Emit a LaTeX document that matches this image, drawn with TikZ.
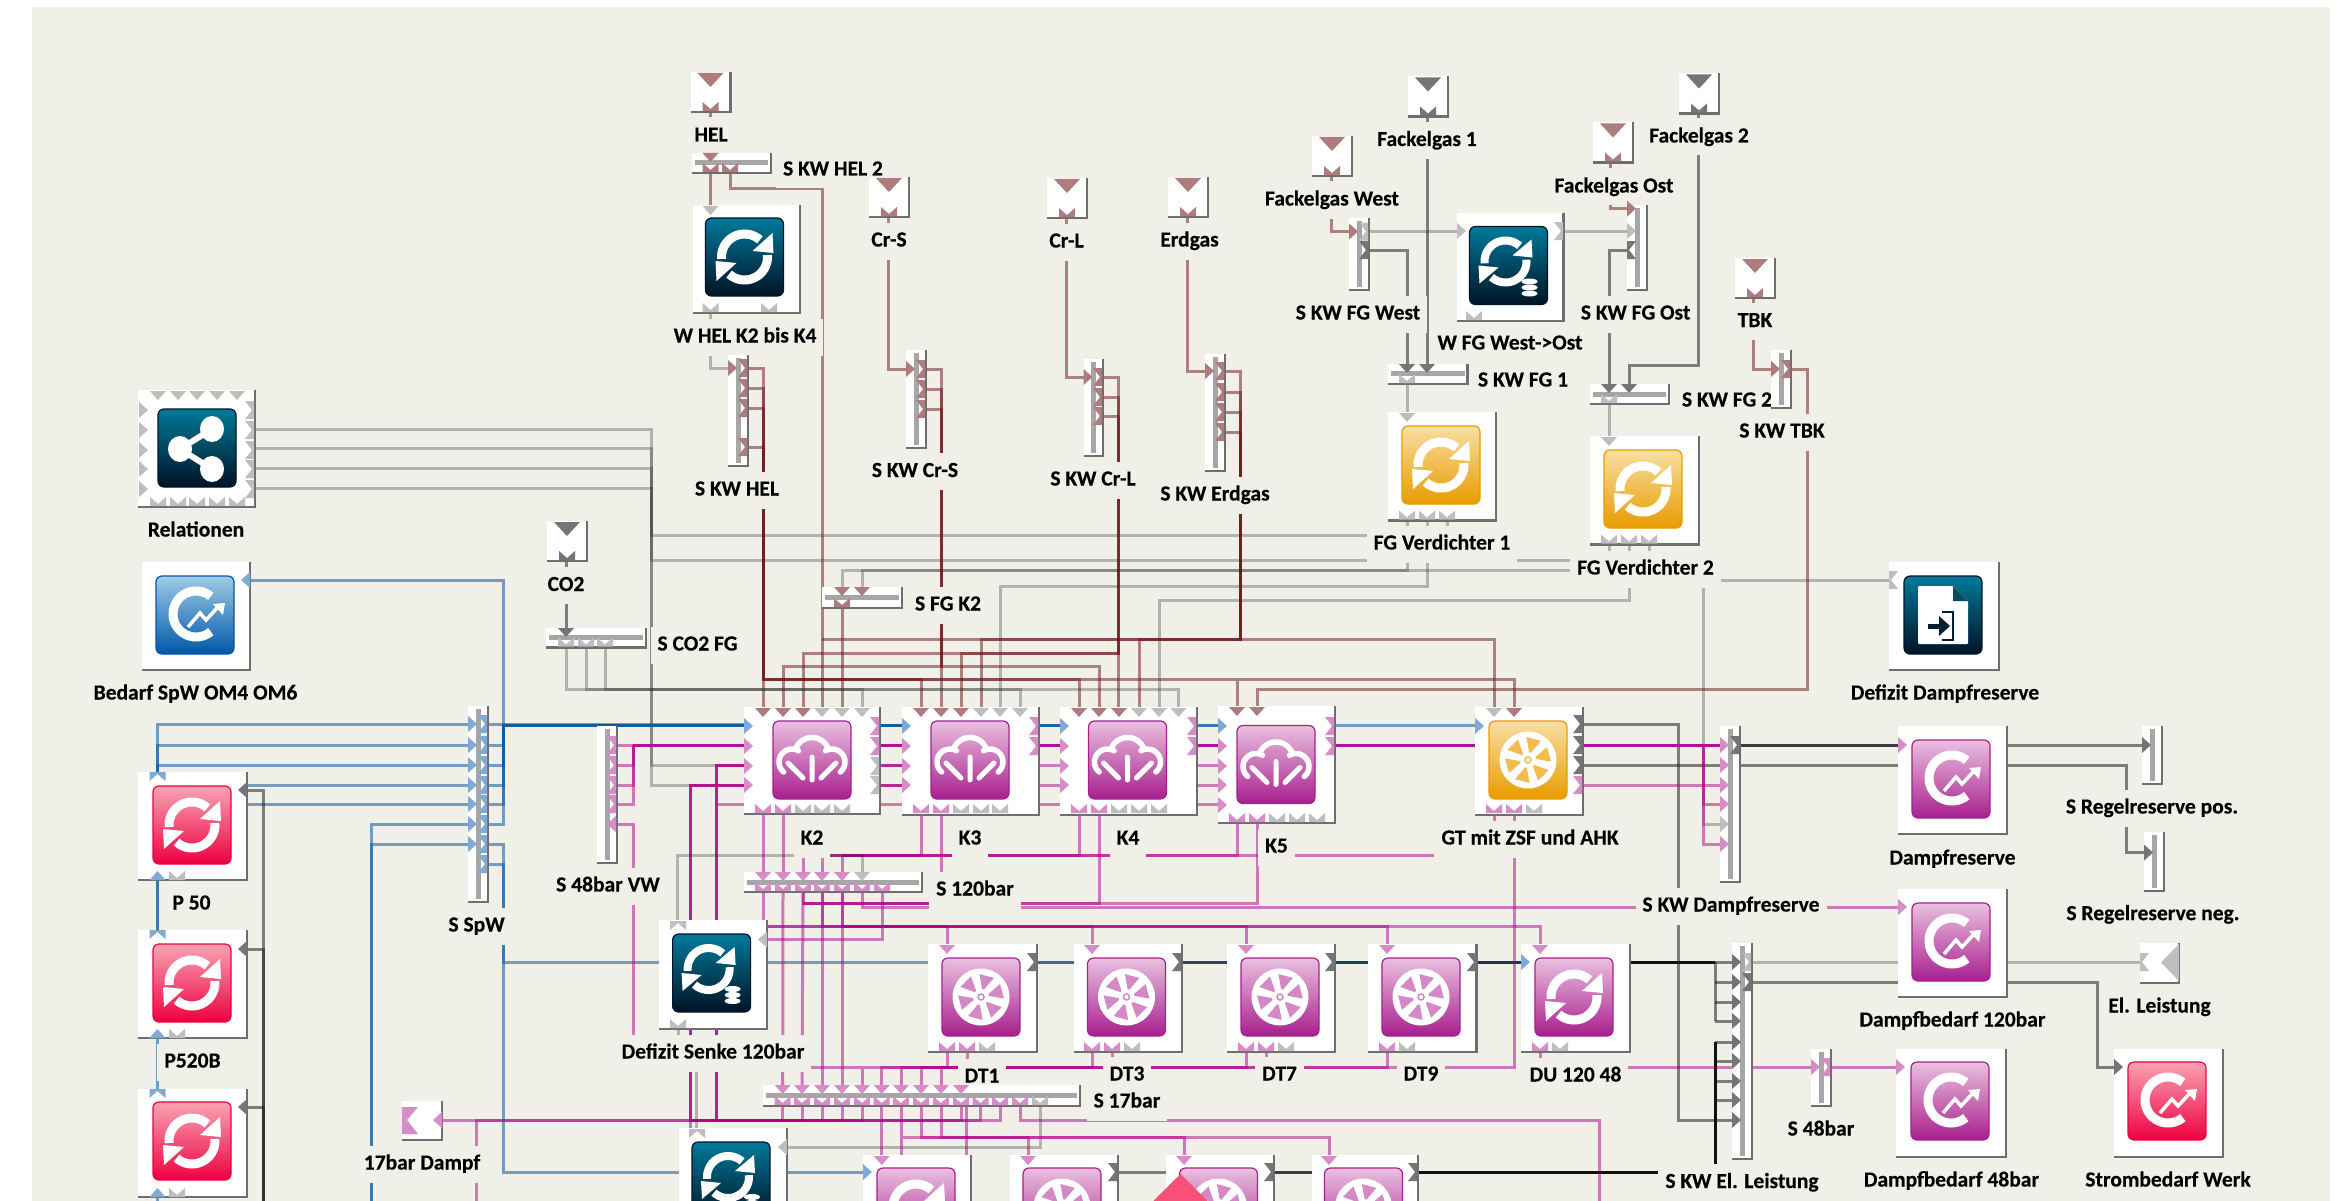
\documentclass[tikz,border=0pt]{standalone}
\usepackage{fontspec}
\setmainfont{Carlito}[BoldFeatures={FakeBold=0.35}]
\usetikzlibrary{calc}
\definecolor{bgc}{HTML}{F0EFE8}
\definecolor{ptM}{HTML}{AE7C7C}
\definecolor{ptG}{HTML}{BEBEBE}
\definecolor{ptD}{HTML}{757575}
\definecolor{ptP}{HTML}{D68CC6}
\definecolor{ptB}{HTML}{7FAAD4}
\definecolor{busbar}{HTML}{A6A6A6}
\definecolor{shadc}{HTML}{6E6E6E}
\definecolor{magd}{HTML}{B5108F}
\definecolor{docA}{HTML}{0A4A62}
\definecolor{docB}{HTML}{02202F}
\definecolor{whP}{HTML}{D488C4}
\definecolor{whO}{HTML}{F1BC50}
\definecolor{Pa}{HTML}{E9C0DF}\definecolor{Pb}{HTML}{CB71B6}\definecolor{Pc}{HTML}{A81F8E}
\definecolor{Ra}{HTML}{F9A3B3}\definecolor{Rb}{HTML}{F4496D}\definecolor{Rc}{HTML}{EE0040}
\definecolor{Oa}{HTML}{F8DFA2}\definecolor{Ob}{HTML}{F1BC50}\definecolor{Oc}{HTML}{E89C00}
\definecolor{Da}{HTML}{007A9A}\definecolor{Db}{HTML}{004C66}\definecolor{Dc}{HTML}{001326}
\definecolor{Ba}{HTML}{9FCBE7}\definecolor{Bb}{HTML}{3D8CC8}\definecolor{Bc}{HTML}{0058A8}
\definecolor{cmar}{RGB}{106,20,20}
\definecolor{cgl}{RGB}{40,40,40}
\definecolor{cgm}{RGB}{32,32,32}
\definecolor{cpm}{RGB}{176,0,138}
\definecolor{cbl}{RGB}{10,90,160}
\definecolor{blA}{RGB}{61,106,144}
\definecolor{blB}{RGB}{35,74,106}
\definecolor{blC}{RGB}{30,63,96}
\definecolor{blD}{RGB}{20,54,90}
\definecolor{grD}{RGB}{60,60,60}
\definecolor{blk}{RGB}{15,15,15}
\definecolor{diam}{RGB}{248,80,118}
\pgfdeclarelayer{under}\pgfdeclarelayer{lines}\pgfdeclarelayer{masks}
\pgfsetlayers{under,lines,masks,main}
\tikzset{
 blockbox/.style={rectangle,fill=white,inner sep=0pt,outer sep=0pt},
 shad/.style={draw=shadc,line width=2.4pt},
 lab/.style={rectangle,fill=bgc,inner xsep=7pt,inner ysep=0pt,minimum height=37pt,text height=15pt,text depth=4pt,text=black,font=\fontsize{21.5}{24}\selectfont\bfseries},
 con/.style={line width=3pt},
 mar/.style={con,draw=cmar,draw opacity=.5},
 gl/.style={con,draw=cgl,draw opacity=.3},
 gm/.style={con,draw=cgm,draw opacity=.55},
 pm/.style={con,draw=cpm,draw opacity=.5},
 bl/.style={con,draw=cbl,draw opacity=.55},
 so/.style={con,draw=#1}
}
% ports
\newcommand{\pT}[3]{\fill[#3] (#1-8,#2)--(#1+8,#2)--(#1,#2+9)--cycle;}
\newcommand{\pL}[3]{\fill[#3] (#1,#2-8)--(#1,#2+8)--(#1+9,#2)--cycle;}
\newcommand{\pLL}[3]{\fill[#3] (#1,#2-8)--(#1,#2+8)--(#1-9,#2)--cycle;}
\newcommand{\pB}[3]{\fill[#3] (#1-8,#2-9)--(#1,#2-2)--(#1+8,#2-9)--(#1+8,#2)--(#1-8,#2)--cycle;}
\newcommand{\pR}[3]{\fill[#3] (#1,#2-9)--(#1-9,#2-9)--(#1-2,#2)--(#1-9,#2+9)--(#1,#2+9)--cycle;}
\newcommand{\pLn}[3]{\fill[#3] (#1,#2-9)--(#1+9,#2-9)--(#1+2,#2)--(#1+9,#2+9)--(#1,#2+9)--cycle;}
\newcommand{\pU}[3]{\fill[#3] (#1-8,#2)--(#1+8,#2)--(#1+8,#2+9)--(#1,#2+2)--(#1-8,#2+9)--cycle;}
\newcommand{\pUp}[3]{\fill[#3] (#1-8,#2)--(#1+8,#2)--(#1,#2-9)--cycle;}
% blocks
\newcommand{\blk}[5]{\pgfmathsetmacro\bw{#4-#2}\pgfmathsetmacro\bh{#5-#3}%
 \node[blockbox,minimum width=\bw pt,minimum height=\bh pt,anchor=north west] (#1) at (#2,#3) {};%
 \draw[shad] (#1.north east)--(#1.south east)--(#1.south west);}
\newcommand{\vbus}[5]{\blk{#1}{#2}{#3}{#4}{#5}%
 \pgfmathsetmacro\bc{(#2+#4)/2}%
 \draw[draw=busbar,line width=5pt] (\bc,#3+3)--(\bc,#5-3);}
\newcommand{\hbus}[5]{\blk{#1}{#2}{#3}{#4}{#5}%
 \pgfmathsetmacro\bc{(#3+#5)/2}%
 \draw[draw=busbar,line width=5pt] (#2+3,\bc)--(#4-3,\bc);}
\newcommand{\src}[4]{\blk{#1}{#2}{#3}{#2+40}{#3+40}%
 \fill[#4] (#2+7,#3+1)--(#2+33,#3+1)--(#2+20,#3+15)--cycle;%
 \pB{#2+20}{#3+39}{#4}}
\newcommand{\lab}[4]{\node[lab] (#1) at (#2,#3) {#4};}
% icons
\newcommand{\icb}[5]{\shadedraw[rounded corners=6pt,top color=#3,middle color=#4,bottom color=#5,draw=#5,line width=1.2pt] (#1,#2) rectangle ++(78,78);}
\newcommand{\icP}[2]{\icb{#1}{#2}{Pa}{Pb}{Pc}}
\newcommand{\icR}[2]{\icb{#1}{#2}{Ra}{Rb}{Rc}}
\newcommand{\icO}[2]{\icb{#1}{#2}{Oa}{Ob}{Oc}}
\newcommand{\icD}[2]{\icb{#1}{#2}{Da}{Db}{Dc}}
\newcommand{\icB}[2]{\icb{#1}{#2}{Ba}{Bb}{Bc}}
\newcommand{\gRefresh}[2]{\begin{scope}[shift={(#1+39,#2+39)}]
 \draw[white,line width=9pt] plot[domain=175:312,samples=24] ({23*cos(\x)},{23*sin(\x)});
 \fill[white] (28,-24)--(29,-4)--(8,-6)--cycle;
 \draw[white,line width=9pt] plot[domain=-5:132,samples=24] ({23*cos(\x)},{23*sin(\x)});
 \fill[white] (-28,24)--(-29,4)--(-8,6)--cycle;
\end{scope}}
\newcommand{\gRefreshDb}[2]{\begin{scope}[shift={(#1+36,#2+35)}]
 \draw[white,line width=8pt] plot[domain=175:312,samples=24] ({21*cos(\x)},{21*sin(\x)});
 \fill[white] (26,-22)--(27,-4)--(7,-6)--cycle;
 \draw[white,line width=8pt] plot[domain=-5:132,samples=24] ({21*cos(\x)},{21*sin(\x)});
 \fill[white] (-26,22)--(-27,4)--(-7,6)--cycle;
 \foreach \dd in {20,26,32}{\fill[white] (24,\dd) ellipse (8pt and 3pt);}
\end{scope}}
\newcommand{\gChart}[2]{\begin{scope}[shift={(#1+39,#2+39)}]
 \draw[white,line width=9pt] plot[domain=50:310,samples=40] ({1+23*cos(\x)},{-1+23*sin(\x)});
 \draw[white,line width=3.5pt] (-7,12)--(5,-2)--(11,5)--(23,-8);
 \fill[white] (30,-12)--(18,-11)--(28,0)--cycle;
\end{scope}}
\newcommand{\gCloud}[2]{\begin{scope}[shift={(#1+39,#2+39)}]
 \draw[white,line width=5.5pt,line cap=round] plot[domain=130:300,samples=20] ({-20+13*cos(\x)},{2+13*sin(\x)});
 \draw[white,line width=5.5pt,line cap=round] plot[domain=200:340,samples=20] ({17.5*cos(\x)},{-5+17.5*sin(\x)});
 \draw[white,line width=5.5pt,line cap=round] plot[domain=240:410,samples=20] ({20+13*cos(\x)},{2+13*sin(\x)});
 \draw[white,line width=5pt,line cap=round] (0,-3)--(0,20) (-24,3)--(-9,18) (24,3)--(9,18);
\end{scope}}
\newcommand{\gWheel}[3]{\begin{scope}[shift={(#1+39,#2+39)}]
 \fill[white] (0,0) circle (28.5pt);
 \foreach \a in {-75,-15,45,105,165,225}{\fill[#3] (\a-7:8)--(\a+7:8)--(\a+19:23)--(\a-19:23)--cycle;}
 \draw[#3,line width=1.5pt] (0,0) circle (3pt);
\end{scope}}
\newcommand{\gShare}[2]{\begin{scope}[shift={(#1+39,#2+39)}]
 \draw[white,line width=6pt] (15,-19)--(-17,1)--(15,21);
 \fill[white] (15,-19) ellipse (12pt and 13pt) (15,21) ellipse (12pt and 13pt) (-17,1) ellipse (12pt and 13pt);
\end{scope}}
\newcommand{\gDoc}[2]{\begin{scope}[shift={(#1+39,#2+39)}]
 \fill[white,rounded corners=1pt] (-25,-29)--(10,-29)--(25,-14)--(25,29)--(-25,29)--cycle;
 \fill[docA] (10,-29)--(25,-14)--(10,-14)--cycle;
 \draw[docB,line width=1.8pt] (-1,-3)--(10,-3)--(10,25)--(-1,25);
 \draw[docB,line width=5pt] (-15,11)--(-2,11);
 \fill[docB] (-4,1)--(-4,21)--(7,11)--cycle;
\end{scope}}
\begin{document}
\begin{tikzpicture}[x=1pt,y=-1pt]
\useasboundingbox (0,0) rectangle (2336,1201);
\begin{pgfonlayer}{under}
\fill[white] (0,0) rectangle (2336,1201);
\fill[bgc] (32,7) rectangle (2330,1201);
\end{pgfonlayer}
\begin{scope}
\clip (0,0) rectangle (2336,1201);
% ---------- blocks
\blk{rel}{138}{390}{255}{507}\icD{158}{409}\gShare{158}{409}
\foreach \q in {158,178,197,217,237}{\pT{\q}{391}{ptG}\pB{\q}{506}{ptG}}
\foreach \q in {410,430,450,469,489}{\pL{139}{\q}{ptG}\pR{254}{\q}{ptG}}
\blk{bed}{142}{562}{250}{670}\icB{156}{576}\gChart{156}{576}\pLL{250}{580}{ptB}
\blk{pone}{138}{772}{247}{880}\icR{153}{786}\gRefresh{153}{786}
\blk{ptwo}{138}{930}{247}{1038}\icR{153}{944}\gRefresh{153}{944}
\blk{pthree}{138}{1089}{247}{1197}\icR{153}{1102}\gRefresh{153}{1102}
\foreach \q in {772,930,1089}{\pU{157.5}{\q}{ptB}}
\foreach \q in {880,1038,1197}{\pUp{157.5}{\q}{ptB}\pB{177}{\q}{ptG}}
\pLL{247}{790}{ptD}\pLL{247}{949}{ptD}\pLL{247}{1107}{ptD}
\blk{whel}{692.5}{205}{800}{313}\icD{705.5}{218}\gRefresh{705.5}{218}\pT{710.5}{206}{ptG}\pB{710.5}{312}{ptG}\pB{769}{312}{ptG}
\blk{wfg}{1457}{213.5}{1563.5}{321}\icD{1469.5}{226.5}\gRefreshDb{1469.5}{226.5}\pL{1457}{231}{ptG}\pR{1563}{231}{ptG}\pB{1474}{320}{ptG}
\blk{fgva}{1388}{412}{1496}{520.5}\icO{1402}{426}\gRefresh{1402}{426}\pT{1407}{413}{ptG}
\foreach \q in {1407,1427,1447}{\pB{\q}{519.5}{ptG}}
\blk{fgvb}{1590}{436}{1699}{544.6}\icO{1604}{450}\gRefresh{1604}{450}\pT{1609}{437}{ptG}
\foreach \q in {1609,1629,1649}{\pB{\q}{543.5}{ptG}}
\blk{defdr}{1889}{562}{1999}{670}\icD{1904}{576}\gDoc{1904}{576}\pLn{1889}{580}{ptG}
\blk{dr}{1898}{726}{2007}{834}\icP{1912}{740}\gChart{1912}{740}\pL{1898}{745}{ptP}
\blk{dba}{1898}{889}{2007}{997}\icP{1912}{903}\gChart{1912}{903}\pL{1898}{907}{ptP}
\blk{dbb}{1896}{1048.5}{2006}{1157}\icP{1911}{1062}\gChart{1911}{1062}\pL{1896}{1067}{ptP}
\blk{sbw}{2114}{1048.5}{2223}{1157}\icR{2128}{1062}\gChart{2128}{1062}\pL{2114}{1067}{ptD}
% K
\blk{kb}{744}{707}{880}{814}\icP{773}{721}\gCloud{773}{721}
\blk{kc}{902}{707}{1039}{815}\icP{931}{721}\gCloud{931}{721}
\blk{kd}{1060}{707}{1197}{815}\icP{1088.5}{721}\gCloud{1088.5}{721}
\blk{ke}{1218}{706}{1335}{823}\icP{1237}{725.5}\gCloud{1237}{725.5}
\foreach \q in {763,783,803}{\pT{\q}{708}{ptM}}\foreach \q in {822,842,862}{\pT{\q}{708}{ptG}}
\foreach \q in {921,941,961}{\pT{\q}{708}{ptM}}\foreach \q in {981,1000,1020}{\pT{\q}{708}{ptG}}
\foreach \q in {1079,1099,1119}{\pT{\q}{708}{ptM}}\foreach \q in {1139,1159,1178.5}{\pT{\q}{708}{ptG}}
\foreach \q in {1237,1257}{\pT{\q}{707}{ptM}}
\foreach \a in {744,902,1060,1218}{\pL{\a}{726}{ptB}\foreach \q in {746,766,785}{\pL{\a}{\q}{ptP}}}
\pL{1218}{805}{ptP}
\pR{879}{726}{ptP}\pR{879}{746}{ptP}\pR{879}{766}{ptG}\pR{879}{785}{ptG}
\foreach \a in {1038,1196,1334}{\pR{\a}{726}{ptP}\pR{\a}{746}{ptP}}
\foreach \q in {763,783}{\pB{\q}{813}{ptP}}\foreach \q in {803,822,842}{\pB{\q}{813}{ptG}}
\foreach \q in {921,941}{\pB{\q}{813}{ptP}}\foreach \q in {961,981,1000}{\pB{\q}{813}{ptG}}
\foreach \q in {1079,1099}{\pB{\q}{813}{ptP}}\foreach \q in {1119,1139,1159}{\pB{\q}{813}{ptG}}
\foreach \q in {1237,1257}{\pB{\q}{822}{ptP}}\foreach \q in {1277,1297,1317}{\pB{\q}{822}{ptG}}
% GT
\blk{gt}{1475}{707}{1583}{815}\icO{1489}{721}\gWheel{1489}{721}{whO}
\pT{1494}{708}{ptG}\pT{1514}{708}{ptM}\pL{1475}{726}{ptB}
\foreach \q in {724,745,765}{\pR{1582}{\q}{ptD}}\pR{1582}{785}{ptP}
\pB{1494}{813}{ptP}\pB{1514}{813}{ptP}\pB{1534}{813}{ptG}
% DT row
\blk{dta}{928}{944}{1037}{1052}\icP{942}{958}\gWheel{942}{958}{whP}
\blk{dtb}{1073.5}{944}{1182}{1052}\icP{1087.5}{958}\gWheel{1087.5}{958}{whP}
\blk{dtc}{1227}{944}{1335}{1052}\icP{1241}{958}\gWheel{1241}{958}{whP}
\blk{dtd}{1368}{944}{1476.5}{1052}\icP{1382}{958}\gWheel{1382}{958}{whP}
\blk{du}{1521}{944}{1630}{1052}\icP{1535}{958}\gRefresh{1535}{958}
\foreach \q in {947,1092,1246,1387,1540}{\pT{\q}{945}{ptP}\pB{\q}{1051}{ptP}}
\foreach \q in {967,1112,1266}{\pB{\q}{1051}{ptP}}\foreach \q in {987,1132,1286,1407,1560}{\pB{\q}{1051}{ptG}}
\foreach \q in {1036,1181,1334,1476}{\pR{\q}{962}{ptD}}\pL{1521}{962}{ptB}
% Defizit Senke & lower row
\blk{defs}{659}{920}{767}{1029}\icD{672.6}{934}\gRefreshDb{672.6}{934}
\pU{678}{921}{ptG}\pLL{767}{939.5}{ptG}\pB{678}{1028}{ptG}
\blk{defl}{679}{1128}{787}{1240}\icD{692}{1142}\gRefreshDb{692}{1142}\pU{697}{1129}{ptG}\pLL{787}{1147}{ptG}
\blk{ba}{863}{1155}{971}{1240}\icP{877}{1168}\gRefresh{877}{1168}\pT{881.7}{1156}{ptP}\pL{863}{1172}{ptB}
\blk{bb}{1010}{1155}{1118}{1240}\icP{1023}{1168}\gWheel{1023}{1168}{whP}\pT{1028}{1156}{ptP}\pR{1117}{1172}{ptD}
\blk{bc}{1166}{1155}{1274}{1240}\icP{1179.5}{1168}\gWheel{1179.5}{1168}{whP}\pT{1184}{1156}{ptP}\pR{1273}{1172}{ptD}
\blk{bd}{1311.5}{1155}{1418}{1240}\icP{1324.5}{1168}\gWheel{1324.5}{1168}{whP}\pT{1329}{1156}{ptP}\pR{1417}{1172}{ptD}
\fill[diam] (1180.5,1174)--(1240,1233)--(1121,1233)--cycle;
% sources
\src{hel}{690.5}{72}{ptM}\src{crs}{869}{177}{ptM}\src{crl}{1047}{178}{ptM}\src{erd}{1168}{177}{ptM}
\src{fgw}{1312}{136}{ptM}\src{fga}{1408}{76.5}{ptD}\src{fgo}{1593}{122.5}{ptM}\src{fgb}{1679}{73.5}{ptD}
\src{tbk}{1735}{258}{ptM}\src{cod}{547}{521}{ptD}
% sinks
\blk{sinkd}{402}{1101}{442}{1140}
\fill[ptP] (402,1107)--(418,1107)--(407,1120)--(418,1134)--(402,1134)--cycle;\pLL{442}{1120}{ptP}
\blk{elk}{2140}{942.5}{2179}{983}
\fill[ptG] (2179,944)--(2179,981)--(2161,962.5)--cycle;\pLn{2140}{962}{ptG}
% buses
\hbus{shela}{691.5}{153}{771}{173}\pT{710.5}{153}{ptM}\pB{710.5}{172}{ptM}\pB{730}{172}{ptM}
\vbus{skwhel}{728}{355}{748}{466}\pL{728}{368}{ptM}\foreach \q in {368,388,408,447}{\pR{747}{\q}{ptM}}
\vbus{skwcrs}{906}{350}{926}{448}\pL{906}{369}{ptM}\foreach \q in {369,389,409}{\pR{925}{\q}{ptM}}
\vbus{skwcrl}{1083.5}{358.6}{1103}{456}\pL{1083.5}{377}{ptM}\foreach \q in {377,397,416}{\pR{1102}{\q}{ptM}}
\vbus{skwerd}{1205}{354}{1225}{471}\pL{1205}{371}{ptM}\foreach \q in {371,392,412,432}{\pR{1224}{\q}{ptM}}
\vbus{skwfgw}{1349}{218}{1369}{290}\pL{1349}{231.5}{ptM}\pR{1368}{231.5}{ptG}\pR{1368}{250}{ptD}
\hbus{skwfga}{1388}{363.6}{1467.5}{384}\pT{1407}{364}{ptD}\pT{1427}{364}{ptD}\pB{1407}{383}{ptG}
\vbus{skwfgo}{1627}{205}{1647}{290}\pL{1627}{208.6}{ptM}\pL{1627}{231}{ptG}\pLn{1627}{250}{ptD}
\hbus{skwfgb}{1590}{384}{1669}{404}\pT{1609}{384}{ptD}\pT{1629}{384}{ptD}\pB{1609}{403}{ptG}
\vbus{skwtbk}{1771}{350}{1791}{408}\pL{1771}{369}{ptM}\pR{1790}{369}{ptM}
\hbus{sfgk}{822}{587}{902}{608}\pT{842}{587}{ptM}\pT{862}{587}{ptM}\pB{842}{607}{ptM}
\hbus{scod}{546}{627.5}{646}{647.5}\pT{566}{628}{ptD}\foreach \q in {566,586,605}{\pB{\q}{646.5}{ptG}}
\vbus{sspw}{468}{706}{488}{902}\foreach \q in {724,745,765,785,804,824,844}{\pL{468}{\q}{ptB}}\foreach \q in {724,745,765,785,804,824,844,864}{\pR{487}{\q}{ptB}}
\vbus{svw}{597}{725.5}{617}{863}\foreach \q in {745,765,785,804}{\pR{616}{\q}{ptP}}\pLL{616}{824}{ptP}
\hbus{sch}{744}{872}{921.7}{892}\foreach \q in {763,783,803,822,842}{\pT{\q}{872}{ptP}}\pT{862}{872}{ptG}\foreach \q in {763,783,803,822,842,862,882}{\pB{\q}{891}{ptP}}
\hbus{ssb}{763}{1085}{1080}{1106}\foreach \q in {782.7,802,822,842,862,881.7,901,921,941,961}{\pT{\q}{1085}{ptP}}\foreach \q in {782.7,802,822,842,862,881.7,901,921,941,961,980.5,1000,1020}{\pB{\q}{1105}{ptP}}\pB{1040}{1105}{ptG}
\vbus{skwdr}{1720}{725.5}{1740}{882}\foreach \q in {745,765,785,804,844}{\pL{1720}{\q}{ptP}}\pL{1720}{824}{ptG}\pR{1739}{745}{ptD}
\vbus{skwel}{1732}{942.5}{1752}{1159}\foreach \q in {962,982,1002,1021,1042,1061,1081,1100,1120}{\pL{1732}{\q}{ptD}}\pR{1751}{962}{ptG}\pR{1751}{982}{ptD}
\vbus{sfb}{1811}{1048.5}{1831}{1106}\pL{1811}{1067}{ptP}\pR{1830}{1067}{ptP}
\vbus{srp}{2142}{725.5}{2162}{784}\pL{2142}{745}{ptD}
\vbus{srn}{2144}{832}{2164}{891}\pL{2144}{852.6}{ptD}
\end{scope}
% ---------- connectors
\begin{pgfonlayer}{lines}
\draw[mar] (hel.south-|710.5,0)--(shela.north-|710.5,0);
\draw[mar] (shela.south-|710.5,0)--(whel.north-|710.5,0);
\draw[mar] (shela.south-|730,0)--(730,188.7)--(822,188.7)--(kb.north-|822,0);
\draw[gl] (whel.south-|710.5,0)--(710.5,368)--(skwhel.west|-0,368);
\draw[mar] (skwhel.east|-0,368)--(763,368)--(kb.north-|763,0);
\draw[mar] (skwhel.east|-0,388)--(763,388)--(763,679)--(921,679)--(kc.north-|921,0);
\draw[mar] (skwhel.east|-0,408)--(763,408)--(763,679)--(1079,679)--(kd.north-|1079,0);
\draw[mar] (skwhel.east|-0,447)--(763,447)--(763,679)--(1514,679)--(gt.north-|1514,0) (1237,679)--(ke.north-|1237,0);
\draw[mar] (crs.south-|888.5,0)--(888.5,369)--(skwcrs.west|-0,369);
\draw[mar] (skwcrs.east|-0,369)--(941,369)--(941,666)--(783,666)--(kb.north-|783,0);
\draw[mar] (skwcrs.east|-0,389)--(941,389)--(kc.north-|941,0);
\draw[mar] (skwcrs.east|-0,409)--(941,409)--(941,666)--(1099,666)--(kd.north-|1099,0);
\draw[mar] (crl.south-|1066,0)--(1066,377)--(skwcrl.west|-0,377);
\draw[mar] (skwcrl.east|-0,377)--(1118.5,377)--(kd.north-|1118.5,0);
\draw[mar] (skwcrl.east|-0,397)--(1118.5,397)--(1118.5,653)--(803,653)--(kb.north-|803,0);
\draw[mar] (skwcrl.east|-0,416)--(1118.5,416)--(1118.5,653)--(961,653)--(kc.north-|961,0);
\draw[mar] (erd.south-|1187.5,0)--(1187.5,371)--(skwerd.west|-0,371);
\draw[mar] (skwerd.east|-0,371)--(1240.5,371)--(1240.5,639)--(981,639)--(kc.north-|981,0);
\draw[mar] (skwerd.east|-0,392)--(1240.5,392)--(1240.5,639)--(1139,639)--(kd.north-|1139,0);
\draw[mar] (skwerd.east|-0,412)--(1240.5,412)--(1240.5,639)--(1494,639)--(gt.north-|1494,0);
\draw[mar] (skwerd.east|-0,432)--(1240.5,432)--(1240.5,639)--(822,639);
\draw[mar] (tbk.south-|1753.5,0)--(1753.5,369)--(skwtbk.west|-0,369);
\draw[mar] (skwtbk.east|-0,369)--(1807,369)--(1807,689)--(1257,689)--(ke.north-|1257,0);
\draw[mar] (sfgk.south-|842,0)--(kb.north-|842,0);
% CO2
\draw[gm] (cod.south-|566,0)--(scod.north-|566,0);
\draw[gl] (scod.south-|566,0)--(566,689)--(862,689)--(kb.north-|862,0);
\draw[gl] (scod.south-|586,0)--(586,689)--(1020,689)--(kc.north-|1020,0);
\draw[gl] (scod.south-|605,0)--(605,689)--(1178.5,689)--(kd.north-|1178.5,0);
% Relationen
\draw[gl] (rel.east|-0,429)--(651,429)--(651,535)--(1400,535);
\draw[gl] (rel.east|-0,448)--(651,448)--(651,560)--(1600,560);
\draw[gl] (rel.east|-0,468)--(651,468)--(651,765)--(kc.west|-0,765);
\draw[gl] (rel.east|-0,488)--(651,488)--(651,785)--(kc.west|-0,785);
% FG
\draw[mar] (fgw.south-|1331,0)--(1331,231.5)--(skwfgw.west|-0,231.5);
\draw[gl] (skwfgw.east|-0,231.5)--(wfg.west|-0,231.5);
\draw[gl] (wfg.east|-0,231)--(skwfgo.west|-0,231);
\draw[gm] (skwfgw.east|-0,250)--(1407,250)--(skwfga.north-|1407,0);
\draw[gm] (fga.south-|1427,0)--(skwfga.north-|1427,0);
\draw[gl] (skwfga.south-|1407,0)--(fgva.north-|1407,0);
\draw[mar] (fgo.south-|1610,0)--(1610,208.6)--(skwfgo.west|-0,208.6);
\draw[gm] (skwfgo.west|-0,250)--(1609,250)--(skwfgb.north-|1609,0);
\draw[gm] (fgb.south-|1698,0)--(1698,365)--(1629,365)--(skwfgb.north-|1629,0);
\draw[gl] (skwfgb.south-|1609,0)--(fgvb.north-|1609,0);
\draw[gl] (fgva.south-|1407,0)--(1407,570)--(842,570)--(sfgk.north-|842,0);
\draw[gl] (fgvb.south-|1609,0)--(1609,570)--(862,570)--(sfgk.north-|862,0);
\draw[gl] (fgva.south-|1427,0)--(1427,586.7)--(1000,586.7)--(kc.north-|1000,0);
\draw[gl] (fgva.south-|1447,0)--(1447,540);
\draw[gl] (fgvb.south-|1629,0)--(1629,600)--(1159,600)--(kd.north-|1159,0);
\draw[gl] (fgvb.south-|1649,0)--(1649,580.6)--(defdr.west|-0,580.6) (1703,580.6)--(1703,824)--(skwdr.west|-0,824);
% Spw
\draw[bl] (sspw.east|-0,724)--(kb.west|-0,724);
\draw[bl] (sspw.east|-0,745)--(503,745)--(503,725)--(kc.west|-0,725);
\draw[bl] (sspw.east|-0,765)--(503,765)--(503,725)--(kd.west|-0,725);
\draw[bl] (sspw.east|-0,785)--(503,785)--(503,725)--(ke.west|-0,725);
\draw[bl] (sspw.east|-0,804)--(503,804)--(503,725)--(gt.west|-0,725);
\draw[bl] (sspw.east|-0,824)--(503,824)--(503,580.5)--(bed.east|-0,580.5);
\draw[bl] (sspw.east|-0,844)--(503,844)--(503,962)--(defs.west|-0,962);
\draw[bl] (sspw.east|-0,864)--(503,864)--(503,1172)--(defl.west|-0,1172);
\draw[bl] (pone.north-|157.5,0)--(157.5,765)--(sspw.west|-0,765);
\draw[bl] (ptwo.north-|157.5,0)--(157.5,745)--(sspw.west|-0,745);
\draw[bl] (pthree.north-|157.5,0)--(157.5,724)--(sspw.west|-0,724);
\draw[bl] (pthree.south-|157.5,0)--(157.5,1201);
\draw[bl] (pone.east|-0,785)--(sspw.west|-0,785);
\draw[bl] (pone.east|-0,804)--(sspw.west|-0,804);
\draw[bl] (sspw.west|-0,824)--(371,824)--(371,1201);
\draw[bl] (sspw.west|-0,844)--(371,844)--(371,1201);
\draw[gm] (pone.east|-0,790)--(263,790)--(263,1201);
\draw[gm] (ptwo.east|-0,949)--(263,949)--(263,1201);
\draw[gm] (pthree.east|-0,1107)--(263,1107)--(263,1201);
% blue chain
\draw[bl] (defs.east|-0,962)--(dta.west|-0,962);
\draw[so=blA] (dta.east|-0,962)--(dtb.west|-0,962);
\draw[so=blB] (dtb.east|-0,962)--(dtc.west|-0,962);
\draw[so=blC] (dtc.east|-0,962)--(dtd.west|-0,962);
\draw[so=blD] (dtd.east|-0,962)--(du.west|-0,962);
\draw[bl] (defl.east|-0,1172)--(ba.west|-0,1172);
\draw[gm] (bb.east|-0,1172)--(bc.west|-0,1172);
\draw[so=grD] (bc.east|-0,1172)--(bd.west|-0,1172);
% 48 bar VW
\draw[so=magd] (633,745)--(gt.west|-0,745);
\draw[pm] (svw.east|-0,745)--(633,745);
\draw[pm] (svw.east|-0,765)--(633,765)--(633,745);
\draw[pm] (svw.east|-0,785)--(633,785)--(633,745);
\draw[pm] (svw.east|-0,804)--(633,804)--(633,745);
% S17 -> row 1120
\draw[pm] (ssb.south-|782.7,0)--(782.7,1120)--(sinkd.east|-0,1120);
\draw[pm] (ssb.south-|802,0)--(802,1120)--(476,1120)--(476,1201);
\draw[pm] (ssb.south-|822,0)--(822,1120)--(716.7,1120)--(716.7,765)--(kb.west|-0,765);
\draw[pm] (ssb.south-|842,0)--(842,1120)--(690,1120)--(690,785)--(kb.west|-0,785);
\draw[pm] (ssb.south-|862,0)--(862,1120)--(716.7,1120)--(716.7,765)--(kc.west|-0,765) (716.7,804)--(ke.west|-0,804);
\draw[pm] (ssb.south-|961,0)--(961,1120)--(690,1120)--(690,785)--(kc.west|-0,785);
\draw[pm] (ssb.south-|980.5,0)--(980.5,1120)--(716.7,1120)--(716.7,765)--(ke.west|-0,765);
\draw[pm] (ssb.south-|1000,0)--(1000,1120)--(690,1120)--(690,785)--(ke.west|-0,785);
\draw[pm] (690,1120)--(defl.north-|690,0);
\draw[pm] (ssb.south-|1020,0)--(1020,1120)--(1599,1120)--(1599,1201);
\draw[pm] (ssb.south-|881.7,0)--(ba.north-|881.7,0);
\draw[pm] (ssb.south-|966.7,0)--(ba.north-|966.7,0);
\draw[gl] (ssb.south-|1040,0)--(1040,1147)--(defl.east|-0,1147);
\draw[gl] (defs.south-|678,0)--(678,1050)--(696.5,1050)--(defl.north-|696.5,0);
\draw[pm] (ssb.south-|901,0)--(901,1137)--(1028,1137)--(bb.north-|1028,0) (901,1137)--(ba.north-|901,0);
\draw[pm] (ssb.south-|921,0)--(921,1137)--(1184,1137)--(bc.north-|1184,0);
\draw[pm] (ssb.south-|941,0)--(941,1137)--(1329,1137)--(bd.north-|1329,0);
% K -> S120
\draw[pm] (kb.south-|763,0)--(sch.north-|763,0);
\draw[pm] (kb.south-|783,0)--(sch.north-|783,0);
\draw[pm] (kc.south-|921,0)--(921,855)--(803,855)--(sch.north-|803,0);
\draw[pm] (kd.south-|1079,0)--(1079,855)--(822,855)--(sch.north-|822,0);
\draw[pm] (ke.south-|1237,0)--(1237,855)--(842,855)--(sch.north-|842,0);
\draw[pm] (gt.south-|1494,0)--(1494,855)--(842,855);
\draw[gl] (sch.north-|862,0)--(862,855.7)--(677.6,855.7)--(defs.north-|677.6,0);
\draw[pm] (sch.south-|803,0)--(803,903)--(1257,903)--(ke.south-|1257,0);
\draw[pm] (803,903)--(1099,903)--(kd.south-|1099,0);
\draw[pm] (803,903)--(941,903)--(kc.south-|941,0);
\draw[pm] (sch.south-|882,0)--(882,939.5)--(defs.east|-0,939.5);
\draw[pm] (sch.south-|862,0)--(862,907)--(dba.west|-0,907);
\draw[pm] (sch.south-|763,0)--(763,926)--(1540,926)--(du.north-|1540,0);
\draw[pm] (763,926)--(1387,926)--(dtd.north-|1387,0);
\draw[pm] (sch.south-|822,0)--(822,926)--(947,926)--(dta.north-|947,0);
\draw[pm] (sch.south-|842,0)--(842,926)--(1092,926)--(dtb.north-|1092,0);
\draw[pm] (842,926)--(1246,926)--(dtc.north-|1246,0);
\draw[pm] (sch.south-|783,0)--(ssb.north-|782.7,0);
\draw[pm] (sch.south-|803,0)--(ssb.north-|802,0);
\draw[pm] (sch.south-|822,0)--(ssb.north-|822,0);
\draw[pm] (sch.south-|842,0)--(ssb.north-|842,0);
% row 1067
\draw[pm] (dta.south-|947,0)--(947,1067)--(941,1067)--(ssb.north-|941,0);
\draw[pm] (dtb.south-|1092,0)--(1092,1067)--(921,1067)--(ssb.north-|921,0);
\draw[pm] (dtc.south-|1246,0)--(1246,1067)--(901,1067)--(ssb.north-|901,0);
\draw[pm] (dtd.south-|1387,0)--(1387,1067)--(881.7,1067)--(ssb.north-|881.7,0);
\draw[pm] (gt.south-|1514,0)--(1514,1067)--(633,1067)--(633,824)--(svw.east|-0,824) (862,1067)--(ssb.north-|862,0);
\draw[pm] (du.south-|1540,0)--(1540,1067)--(sfb.west|-0,1067);
\draw[pm] (sfb.east|-0,1067)--(dbb.west|-0,1067);
\foreach \q in {967,1112,1266}{\draw[pm] (\q,1052)--(\q,1060);}
% GT right
\draw[gm] (gt.east|-0,724)--(1678,724)--(1678,1120)--(skwel.west|-0,1120);
\draw[so=magd] (gt.east|-0,745)--(skwdr.west|-0,745);
\draw[gm] (gt.east|-0,765)--(skwdr.west|-0,765);
\draw[pm] (gt.east|-0,785)--(skwdr.west|-0,785);
\draw[pm] (1703,745)--(1703,804)--(skwdr.west|-0,804);
\draw[pm] (1703,745)--(1703,844)--(skwdr.west|-0,844);
% Dampfreserve etc
\draw[so=grD] (skwdr.east|-0,745)--(dr.west|-0,745);
\draw[gm] (skwdr.east|-0,765)--(dr.west|-0,765);
\draw[gm] (dr.east|-0,745)--(srp.west|-0,745);
\draw[gm] (dr.east|-0,765)--(2126,765)--(2126,852.6)--(srn.west|-0,852.6);
\draw[gl] (skwel.east|-0,962)--(dba.west|-0,962);
\draw[gm] (skwel.east|-0,982)--(dba.west|-0,982);
\draw[gl] (dba.east|-0,962)--(elk.west|-0,962);
\draw[gm] (dba.east|-0,982)--(2097,982)--(2097,1067.7)--(sbw.west|-0,1067.7);
% El. Leistung
\draw[so=blk] (du.east|-0,962)--(1715,962);
\draw[gm] (1715,962)--(1715,1021);
\foreach \q in {962,982,1002,1021,1042,1061,1081,1100}{\draw[gm] (1715,\q)--(skwel.west|-0,\q);}
\draw[so=blk] (1715,1042)--(1715,1172)--(bd.east|-0,1172);
\end{pgfonlayer}
% ---------- labels
\begin{pgfonlayer}{masks}
\lab{lhel}{711}{136}{HEL}
\lab{lshel}{833}{170}{S KW HEL 2}
\lab{lwhel}{745}{337}{W HEL K2 bis K4}
\lab{lskwhel}{737}{490}{S KW HEL}
\lab{lcrs}{889}{241}{Cr-S}
\lab{lskwcrs}{915}{471.5}{S KW Cr-S}
\lab{lcrl}{1066.5}{242}{Cr-L}
\lab{lskwcrl}{1093}{480}{S KW Cr-L}
\lab{lerd}{1189.5}{241}{Erdgas}
\lab{lskwerd}{1215}{495}{S KW Erdgas}
\lab{lfgw}{1332}{200}{Fackelgas West}
\lab{lfga}{1427}{140.5}{Fackelgas 1}
\lab{lskwfgw}{1358}{314}{S KW FG West}
\lab{lwfg}{1510}{344}{W FG West->Ost}
\lab{lskwfga}{1523}{381}{S KW FG 1}
\lab{lfgva}{1442}{544}{FG Verdichter 1}
\lab{lfgo}{1614}{187}{Fackelgas Ost}
\lab{lfgb}{1699}{137}{Fackelgas 2}
\lab{lskwfgo}{1635.6}{314}{S KW FG Ost}
\lab{lskwfgb}{1727}{401}{S KW FG 2}
\lab{ltbk}{1755}{321.5}{TBK}
\lab{lskwtbk}{1782}{432}{S KW TBK}
\lab{lfgvb}{1645.5}{569}{FG Verdichter 2}
\lab{ldefdr}{1945}{694}{Defizit Dampfreserve}
\lab{ldr}{1952.5}{859}{Dampfreserve}
\lab{lsrp}{2152}{808}{S Regelreserve pos.}
\lab{lsrn}{2153}{914.6}{S Regelreserve neg.}
\lab{ldba}{1952.5}{1021}{Dampfbedarf 120bar}
\lab{lelk}{2159.5}{1007}{El. Leistung}
\lab{ldbb}{1951.5}{1181}{Dampfbedarf 48bar}
\lab{lsbw}{2168}{1181}{Strombedarf Werk}
\lab{lskwdr}{1731}{906}{S KW Dampfreserve}
\lab{lskwel}{1742}{1182.5}{S KW El. Leistung}
\lab{lsfb}{1821}{1130}{S 48bar}
\lab{ldu}{1575.5}{1076}{DU 120 48}
\lab{lgt}{1530}{839}{GT mit ZSF und AHK}
\lab{lkb}{812}{839}{K2}
\lab{lkc}{970}{839}{K3}
\lab{lkd}{1128}{839}{K4}
\lab{lke}{1276.5}{847}{K5}
\lab{lsvw}{608}{886}{S 48bar VW}
\lab{lsspw}{476.6}{926}{S SpW}
\lab{lscod}{697.5}{645}{S CO2 FG}
\lab{lcod}{566}{585.5}{CO2}
\lab{lrel}{196}{531}{Relationen}
\lab{lbed}{195.5}{694}{Bedarf SpW OM4 OM6}
\lab{lpone}{191.5}{904}{P 50}
\lab{lptwo}{192.5}{1062}{P520B}
\lab{ldefs}{713}{1053}{Defizit Senke 120bar}
\lab{lsch}{975}{890}{S 120bar}
\lab{lsfgk}{948}{605}{S FG K2}
\lab{ldta}{982}{1077}{DT1}
\lab{ldtb}{1127}{1075}{DT3}
\lab{ldtc}{1279.5}{1075}{DT7}
\lab{ldtd}{1421}{1075}{DT9}
\lab{lssb}{1127}{1102}{S 17bar}
\lab{lsinkd}{422}{1164}{17bar Dampf}
\end{pgfonlayer}
\end{tikzpicture}
\end{document}
